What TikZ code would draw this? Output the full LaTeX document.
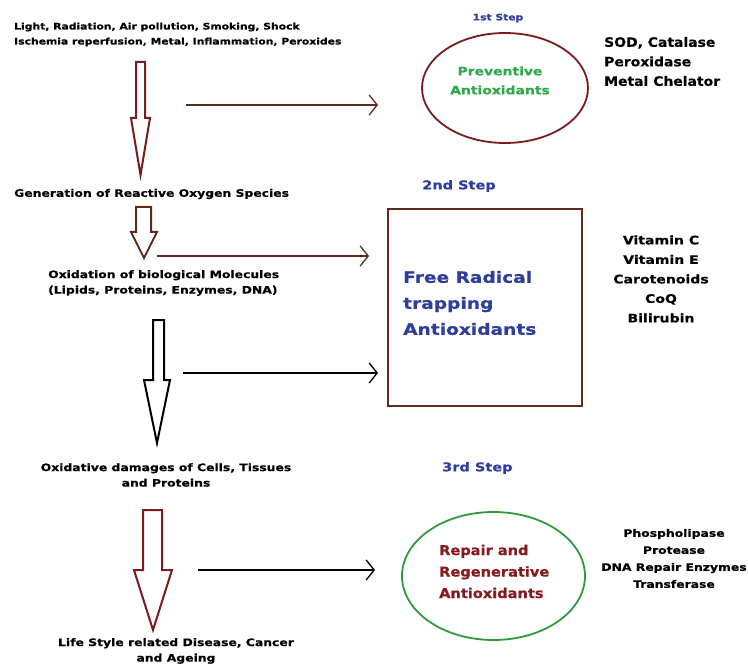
\documentclass[tikz,border=0pt]{standalone}
\usepackage{fontspec}
\setmainfont[FakeStretch=1.2, BoldFeatures={FakeBold=0.6}]{DejaVu Sans}
\newfontfamily\narrowfont[FakeStretch=1.08, BoldFeatures={FakeBold=0.6}]{DejaVu Sans}
\usetikzlibrary{arrows.meta,shapes.geometric}
\definecolor{dred}{HTML}{7A1C1E}
\definecolor{brn}{HTML}{5C2C1E}
\definecolor{stepblue}{HTML}{2F3D9C}
\definecolor{tgreen}{HTML}{2FA84C}
\definecolor{egreen}{HTML}{2E9A3C}
\definecolor{tred}{HTML}{861A1E}
\tikzset{
  txt/.style={font=\bfseries\fontsize{10.3}{15.5}\selectfont, inner sep=0pt},
  steptxt/.style={font=\bfseries\fontsize{12.1}{14}\selectfont, text=stepblue, inner sep=0pt},
  blockarrow/.style={line width=2pt, line join=miter, fill=white},
  thinarrow/.style={line width=1.6pt, -{Straight Barb[length=8pt,width=20pt,line width=1.3pt]}},
}
\begin{document}
\begin{tikzpicture}[x=1pt,y=-1pt]
\useasboundingbox (0,0) rectangle (748,666);

% left column texts
\node[txt, font=\bfseries\fontsize{9}{15}\selectfont, anchor=west, align=left] (causes) at (14,34.5) {Light, Radiation, Air pollution, Smoking, Shock\\Ischemia reperfusion, Metal, Inflammation, Peroxides};
\node[txt, anchor=west] (ros) at (14,194) {Generation of Reactive Oxygen Species};
\node[txt, anchor=west, align=left] (oxid) at (48,283) {Oxidation of biological Molecules\\(Lipids, Proteins, Enzymes, DNA)};
\node[txt, align=center] (damage) at (166,475) {Oxidative damages of Cells, Tissues\\and Proteins};
\node[txt, align=center] (disease) at (176,651) {Life Style related Disease, Cancer\\and Ageing};

% block arrows
\draw[blockarrow, draw=dred] (136,62) -- (145,62) -- (145,118) -- (150,118) -- (140.5,175) -- (131,118) -- (136,118) -- cycle;
\draw[blockarrow, draw=brn] (136,207) -- (151,207) -- (151,232) -- (157,232) -- (144,258) -- (131,232) -- (136,232) -- cycle;
\draw[blockarrow, draw=black] (153,320) -- (164,320) -- (164,380) -- (170,380) -- (157,443) -- (144,380) -- (153,380) -- cycle;
\draw[blockarrow, draw=dred] (143,510) -- (162,510) -- (162,570) -- (172,570) -- (153,630) -- (134,570) -- (143,570) -- cycle;

% step labels
\node[font=\bfseries\fontsize{8.95}{10}\selectfont, text=stepblue, inner sep=0pt] (s1) at (498,18) {1st Step};
\node[steptxt, anchor=west] (s2) at (422,186) {2nd Step};
\node[steptxt, anchor=west] (s3) at (442,468) {3rd Step};

% stage shapes
\node[ellipse, draw=dred, line width=1.8pt, minimum width=166pt, minimum height=110pt, inner sep=0pt] (prev) at (505,88) {};
\node[font=\bfseries\fontsize{11.6}{19}\selectfont, text=tgreen, align=center, inner sep=0pt] (prevtxt) at (500,80.5) {Preventive\\Antioxidants};

\node[draw=brn, line width=2pt, minimum width=194pt, minimum height=197pt, inner sep=0pt] (box) at (485,307.5) {};
\node[font=\bfseries\fontsize{15.5}{26}\selectfont, text=stepblue, align=left, anchor=west, inner sep=0pt] (boxtxt) at (403,303) {Free Radical\\trapping\\Antioxidants};

\node[ellipse, draw=egreen, line width=1.8pt, minimum width=183pt, minimum height=128pt, inner sep=0pt] (rep) at (493.5,576) {};
\node[font=\narrowfont\bfseries\fontsize{13.5}{21.5}\selectfont, text=tred, align=left, anchor=west, inner sep=0pt] (reptxt) at (439,571.5) {Repair and\\Regenerative\\Antioxidants};

% examples
\node[font=\narrowfont\bfseries\fontsize{12.9}{19.5}\selectfont, anchor=west, align=left, inner sep=0pt] (ex1) at (604,61.5) {SOD, Catalase\\Peroxidase\\Metal Chelator};
\node[font=\bfseries\fontsize{11.7}{19.5}\selectfont, align=center, inner sep=0pt] (ex2) at (661,279) {Vitamin C\\Vitamin E\\Carotenoids\\CoQ\\Bilirubin};
\node[font=\bfseries\fontsize{10.3}{17}\selectfont, align=center, inner sep=0pt] (ex3) at (674,558.5) {Phospholipase\\Protease\\DNA Repair Enzymes\\Transferase};

% thin arrows
\coordinate (a1s) at (186,105); \coordinate (a1e) at (378,105);
\coordinate (a2s) at (157,256); \coordinate (a2e) at (369,256);
\coordinate (a3s) at (183,373); \coordinate (a3e) at (378,373);
\coordinate (a4s) at (198,570); \coordinate (a4e) at (375,570);
\draw[thinarrow, draw=brn] (a1s) -- (a1e);
\draw[thinarrow, draw=brn] (a2s) -- (a2e);
\draw[thinarrow, draw=black] (a3s) -- (a3e);
\draw[thinarrow, draw=black] (a4s) -- (a4e);
\end{tikzpicture}
\end{document}
